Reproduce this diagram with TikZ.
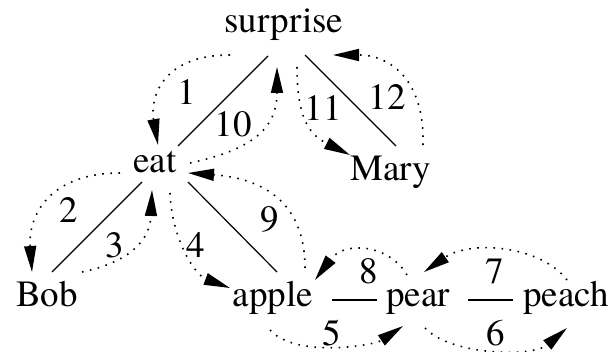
\documentclass[tikz,border=0pt]{standalone}
\usepackage{fontspec}
\setmainfont{texgyretermes-regular.otf}
\usetikzlibrary{arrows.meta, calc}
\tikzset{
  palabra/.style = {inner sep=0pt, text height=25.5pt, text depth=8.1pt, font=\fontsize{37}{40}\selectfont},
  num/.style     = {inner sep=0pt, font=\fontsize{37}{40}\selectfont},
  arista/.style  = {black, line width=1.2pt},
  paso/.style    = {->, black, line width=1.6pt, dash pattern=on 1.6pt off 6.5pt}
}
\begin{document}
\begin{tikzpicture}[>={Triangle[length=26pt, width=12pt]}, x=1pt, y=-1pt]
  \useasboundingbox (0,0) rectangle (615,352);

  % words
  \node[palabra] (s)  at (284,24)  {surprise};
  \node[palabra] (e)  at (155,164) {eat};
  \node[palabra] (m)  at (391,172) {Mary};
  \node[palabra] (b)  at (47,298)  {Bob};
  \node[palabra] (a)  at (273,298) {apple};
  \node[palabra] (p)  at (418,298) {pear};
  \node[palabra] (pc) at (566,298) {peach};

  % tree
  \draw[arista] ($(s)+(-16,32)$) -- ($(e)+(23,-18)$);
  \draw[arista] ($(s)+(21,31)$)  -- ($(m)+(5,-26)$);
  \draw[arista] ($(e)+(-13,18)$) -- ($(b)+(5,-26)$);
  \draw[arista] ($(e)+(33,18)$)  -- ($(a)+(4,-26)$);
  \draw[arista] ($(a)+(59,2)$)   -- ($(p)+(-41,2)$);
  \draw[arista] ($(p)+(50,2)$)   -- ($(pc)+(-53,2)$);

  % walk
  \draw[paso] ($(s)+(-54,31)$) .. controls +(-70,0) and +(-8,-45) .. ($(e)+(3,-19)$);
  \draw[paso] ($(e)+(-35,9)$) .. controls +(-70,0) and +(-4,-57) .. ($(b)+(-15,-26)$);
  \draw[paso] ($(b)+(35,-26)$) .. controls +(48,-10) and +(-2,50) .. ($(e)+(-3,26)$);
  \draw[paso] ($(e)+(15,29)$) .. controls +(2,47) and +(-35,-13) .. ($(a)+(-43,-10)$);
  \draw[paso] ($(a)+(-3,32)$) .. controls +(25,28) and +(-30,20) .. ($(p)+(-15,28)$);
  \draw[paso] ($(p)+(7,30)$) .. controls +(25,27) and +(-35,30) .. ($(pc)+(1,30)$);
  \draw[paso] ($(pc)+(1,-18)$) .. controls +(-27,-35) and +(46,-32) .. ($(p)+(6,-26)$);
  \draw[paso] ($(p)+(-11,-23)$) .. controls +(-17,-30) and +(30,-40) .. ($(a)+(42,-18)$);
  \draw[paso] ($(a)+(32,-30)$) .. controls +(0,-68) and +(72,5) .. ($(e)+(33,9)$);
  \draw[paso] ($(e)+(35,-1)$) .. controls +(60,-13) and +(0,63) .. ($(s)+(-7,43)$);
  \draw[paso] ($(s)+(13,43)$) .. controls +(0,53) and +(-40,-20) .. ($(m)+(-41,-17)$);
  \draw[paso] ($(m)+(32,-27)$) .. controls +(2,-65) and +(57,0) .. ($(s)+(49,31)$);

  % step numbers
  \node[num] (l1)  at (187,92)  {1};
  \node[num] (l2)  at (69,210)  {2};
  \node[num] (l3)  at (115,245) {3};
  \node[num] (l4)  at (196,245) {4};
  \node[num] (l5)  at (332,333) {5};
  \node[num] (l6)  at (496,333) {6};
  \node[num] (l7)  at (495,271) {7};
  \node[num] (l8)  at (369,271) {8};
  \node[num] (l9)  at (270,219) {9};
  \node[num] (l10) at (233,124) {10};
  \node[num] (l11) at (323,108) {11};
  \node[num] (l12) at (387,97)  {12};
\end{tikzpicture}
\end{document}
